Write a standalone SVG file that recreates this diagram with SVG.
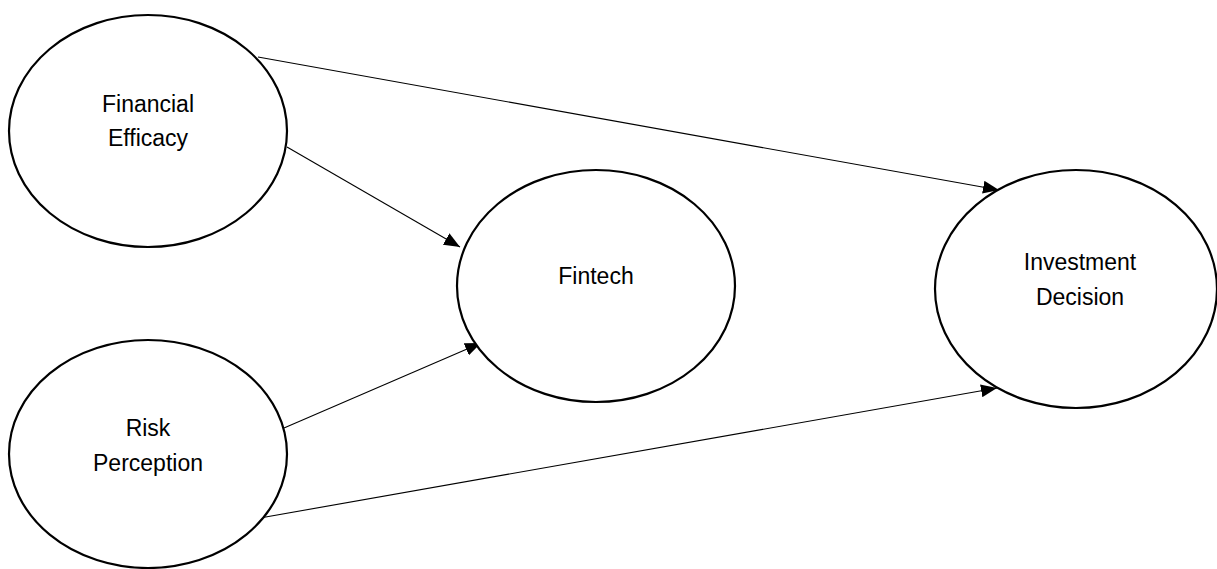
<svg xmlns="http://www.w3.org/2000/svg" width="1217" height="569" viewBox="0 0 1217 569">
<style>
.node ellipse{fill:#fff;stroke:#000;stroke-width:2.2}
.node text{font-family:"Liberation Sans",Arial,sans-serif;font-size:23px;fill:#000;text-anchor:middle}
.conn line{stroke:#000;stroke-width:1.1;fill:none}
</style>
<defs>
<marker id="arr" markerUnits="userSpaceOnUse" markerWidth="17" markerHeight="13" refX="16" refY="6.5" orient="auto">
<path d="M0,0 L16,6.5 L0,13 z" fill="#000"/>
</marker>
</defs>
<rect width="1217" height="569" fill="#fff"/>
<g id="connectors" class="conn">
<line x1="258" y1="57" x2="999" y2="190" marker-end="url(#arr)"/>
<line x1="287" y1="147" x2="460" y2="247" marker-end="url(#arr)"/>
<line x1="284" y1="428" x2="481" y2="343" marker-end="url(#arr)"/>
<line x1="260" y1="518" x2="997" y2="388" marker-end="url(#arr)"/>
</g>
<g id="financial-efficacy" class="node">
<ellipse cx="148" cy="131" rx="139" ry="116"/>
<text x="148" y="112">Financial</text>
<text x="148" y="146">Efficacy</text>
</g>
<g id="risk-perception" class="node">
<ellipse cx="148" cy="454" rx="139" ry="114"/>
<text x="148" y="436">Risk</text>
<text x="148" y="471">Perception</text>
</g>
<g id="fintech" class="node">
<ellipse cx="596" cy="286" rx="139" ry="116"/>
<text x="596" y="284">Fintech</text>
</g>
<g id="investment-decision" class="node">
<ellipse cx="1076" cy="289" rx="141" ry="119"/>
<text x="1080" y="270">Investment</text>
<text x="1080" y="305">Decision</text>
</g>
</svg>
